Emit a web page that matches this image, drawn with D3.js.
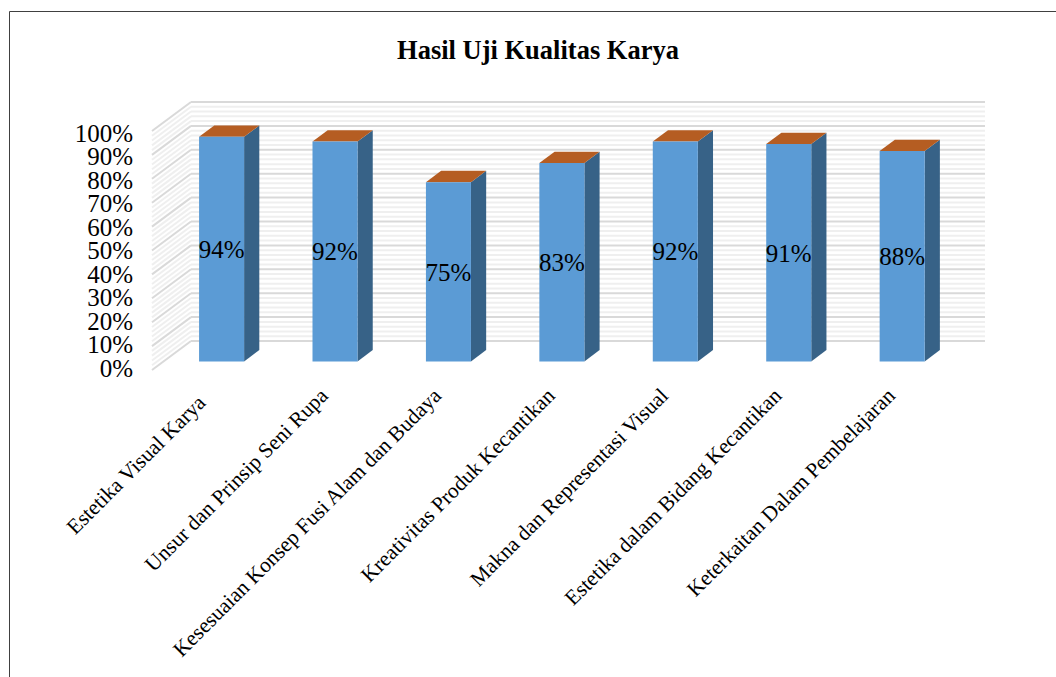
<!DOCTYPE html>
<html lang="en">
<head>
    <meta charset="utf-8">
    <title>Hasil Uji Kualitas Karya</title>
    <script src="https://d3js.org/d3.v7.min.js"></script>
    <style type="text/css">
        html, body { margin: 0; padding: 0; background: #fff; overflow: hidden; }
        svg { display: block; }
        text { font-family: "Liberation Serif", "Times New Roman", serif; fill: #000; }
    </style>
</head>
<body>
<script type="text/javascript">
    //Data
    var categories = [
        "Estetika Visual Karya",
        "Unsur dan Prinsip Seni Rupa",
        "Kesesuaian Konsep Fusi Alam dan Budaya",
        "Kreativitas Produk Kecantikan",
        "Makna dan Representasi Visual",
        "Estetika dalam Bidang Kecantikan",
        "Keterkaitan Dalam Pembelajaran"
    ];
    var values = [94, 92, 75, 83, 92, 91, 88];
    var chartTitle = "Hasil Uji Kualitas Karya";

    //Width and height
    var w = 1056;
    var h = 677;

    //Front edge of the chart box, the rest is pushed back by the depth offset
    var depthX = 39;
    var depthY = -29;
    var barDepthFront = 0.33;
    var barDepthBack = 0.72;

    var xScale = d3.scaleBand()
        .domain(categories)
        .range([152, 946])
        .paddingInner(0.603)
        .paddingOuter(0.3015);

    var yScale = d3.scaleLinear()
        .domain([0, 100])
        .range([370, 131]);

    //Tick labels sit a little inside the front edge
    var yLabelScale = d3.scaleLinear()
        .domain([0, 100])
        .range([368, 133]);

    //Project a plot position to the oblique view
    function px(x, depth) { return x + depthX * depth; }
    function py(v, depth) { return yScale(v) + depthY * depth; }
    function pts(list) {
        return list.map(function(p) { return px(p[0], p[2]) + "," + py(p[1], p[2]); }).join(" ");
    }

    var svg = d3.select("body")
        .append("svg")
        .attr("width", w)
        .attr("height", h);

    //Frame, runs off the right and bottom
    svg.append("path")
        .attr("d", "M9.5,677V11.5H1056")
        .attr("fill", "none")
        .attr("stroke", "#404040")
        .attr("stroke-width", 1);

    svg.append("text")
        .attr("x", 538)
        .attr("y", 59)
        .attr("text-anchor", "middle")
        .attr("font-size", "26.5px")
        .attr("font-weight", "bold")
        .text(chartTitle);

    //Grid on the side wall and back wall, minor first so major is on top
    var minor = d3.range(0, 101, 2).filter(function(d) { return d % 10 !== 0; });
    var major = yScale.ticks(10);

    function drawGrid(data, color, width) {
        var g = svg.append("g")
            .attr("stroke", color)
            .attr("stroke-width", width);
        g.selectAll("line.side")
            .data(data)
            .enter()
            .append("line")
            .attr("class", "side")
            .attr("x1", px(xScale.range()[0], 0))
            .attr("y1", function(d) { return py(d, 0); })
            .attr("x2", px(xScale.range()[0], 1))
            .attr("y2", function(d) { return py(d, 1); });
        g.selectAll("line.back")
            .data(data)
            .enter()
            .append("line")
            .attr("class", "back")
            .attr("x1", px(xScale.range()[0], 1))
            .attr("y1", function(d) { return py(d, 1); })
            .attr("x2", px(xScale.range()[1], 1))
            .attr("y2", function(d) { return py(d, 1); });
    }
    drawGrid(minor, "#efefef", 2);
    drawGrid(major, "#d9d9d9", 2);

    //Bars: side, top, then front
    var bars = svg.selectAll("g.bar")
        .data(categories)
        .enter()
        .append("g")
        .attr("class", "bar")
        .attr("transform", "translate(0,1)");

    function barX0(d) { return xScale(d); }
    function barX1(d) { return xScale(d) + xScale.bandwidth(); }
    function val(i) { return values[i]; }

    bars.append("polygon")
        .attr("fill", "#376287")
        .attr("points", function(d, i) {
            return pts([
                [barX1(d), 0, barDepthFront],
                [barX1(d), 0, barDepthBack],
                [barX1(d), val(i), barDepthBack],
                [barX1(d), val(i), barDepthFront]
            ]);
        });

    bars.append("polygon")
        .attr("fill", "#b55d22")
        .attr("points", function(d, i) {
            return pts([
                [barX0(d), val(i), barDepthFront],
                [barX1(d), val(i), barDepthFront],
                [barX1(d), val(i), barDepthBack],
                [barX0(d), val(i), barDepthBack]
            ]);
        });

    bars.append("polygon")
        .attr("fill", "#5b9bd5")
        .attr("points", function(d, i) {
            return pts([
                [barX0(d), 0, barDepthFront],
                [barX1(d), 0, barDepthFront],
                [barX1(d), val(i), barDepthFront],
                [barX0(d), val(i), barDepthFront]
            ]);
        });

    //Value labels in the middle of each bar
    bars.append("text")
        .attr("x", function(d) { return px(xScale(d) + xScale.bandwidth() / 2, barDepthFront); })
        .attr("y", function(d, i) { return py(val(i) / 2, barDepthFront) + 9; })
        .attr("text-anchor", "middle")
        .attr("font-size", "25px")
        .text(function(d, i) { return val(i) + "%"; });

    //Y axis
    var yAxis = d3.axisLeft()
        .scale(yLabelScale)
        .ticks(10)
        .tickSize(0)
        .tickPadding(0)
        .tickFormat(function(d) { return d + "%"; });

    var yG = svg.append("g")
        .attr("transform", "translate(133,0)")
        .call(yAxis);
    yG.select(".domain").remove();
    yG.selectAll("text")
        .style("font-size", "25px");

    //X axis, labels turned 45 degrees and ending under each bar
    var xAxis = d3.axisBottom()
        .scale(xScale)
        .tickSize(0);

    var xG = svg.append("g")
        .attr("transform", "translate(0,370)")
        .call(xAxis);
    xG.select(".domain").remove();
    //the first label sits lower than the others in the original
    xG.selectAll("text")
        .attr("y", 0)
        .attr("dy", 0)
        .attr("text-anchor", "end")
        .attr("transform", function(d, i) {
            return i === 0 ? "translate(-2,34) rotate(-45)" : "translate(7,27) rotate(-45)";
        })
        .style("font-size", "21.4px");
</script>
</body>
</html>
